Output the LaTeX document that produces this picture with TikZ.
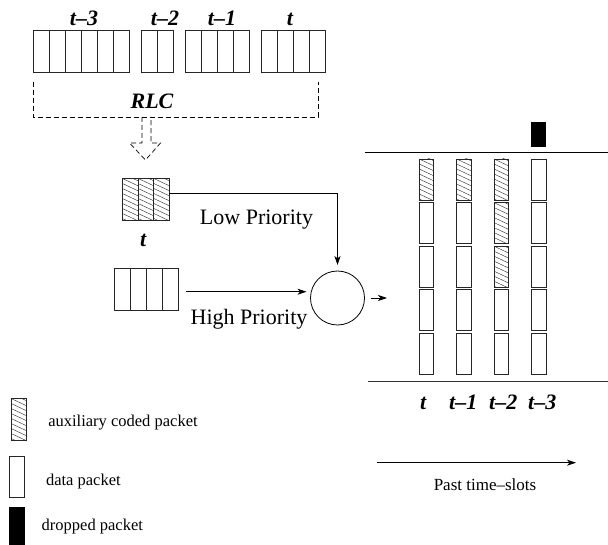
\documentclass[tikz,border=0pt]{standalone}
\usepackage{fontspec}
\setmainfont{Liberation Serif}
\usetikzlibrary{arrows.meta}
\usetikzlibrary{positioning}

\begin{document}
\begin{tikzpicture}[
        x=1pt,y=-1pt,
        every node/.style={inner sep=0pt,outer sep=0pt},
        packet/.style={rectangle,draw=black!85,line width=0.8pt,minimum width=16pt,minimum height=41.5pt},
        slot/.style={packet,minimum width=14.5pt,minimum height=41pt},
        codedpkt/.style={path picture={
            \foreach \k in {-2,...,10}
                \draw[line width=0.4pt] ([yshift={-\k*5pt}]path picture bounding box.north west) -- ++(17pt,-8pt);
        }},
        pkt/.code 2 args={\ifnum#1>#2\relax\else\pgfkeysalso{/tikz/codedpkt}\fi},
        dropped/.style={fill=black,draw=black},
        slot label/.style={font=\fontsize{22}{24}\selectfont\bfseries\itshape,anchor=base},
        prio label/.style={font=\fontsize{22}{24}\selectfont,anchor=base},
        legend label/.style={font=\fontsize{16.5}{18}\selectfont,anchor=base west},
        rlc line/.style={line width=0.7pt,dash pattern=on 5pt off 3pt}
    ]
    \tikzset{>={Stealth[length=9pt,width=6pt,inset=2.5pt]}}
    \useasboundingbox (0,0) rectangle (608,545);

    % packets waiting at the RLC
    \foreach \i in {1,...,6} \node[packet] (old3 \i) at ({25+16*\i},51.5) {};
    \foreach \i in {1,2} \node[packet] (old2 \i) at ({134+15.7*\i},51.5) {};
    \foreach \i in {1,...,4} \node[packet] (old1 \i) at ({177+16*\i},51.5) {};
    \foreach \i in {1,...,4} \node[packet] (now \i) at ({254+15.8*\i},51.5) {};
    \node[slot label] (lab old3) at (84,25.5) {t--3};
    \node[slot label] (lab old2) at (165,25.5) {t--2};
    \node[slot label] (lab old1) at (222,25.5) {t--1};
    \node[slot label] (lab now) at (290,25.5) {t};

    \coordinate (rlc left) at (33,82);
    \coordinate (rlc right) at (318,82);
    \coordinate (rlc out) at (146.5,117);
    \draw[rlc line] (rlc left) -- ++(0,35) -| (rlc right);
    \node[slot label] (lab rlc) at (152,108.3) {RLC};
    \draw[rlc line] (rlc out) ++(-4.5,0) -- ++(0,26) -- ++(-12.5,0) -- ++(16,17) -- ++(15,-17) -- ++(-9.5,0) -- ++(0,-26);

    % coded and data queues
    \foreach \i in {1,2,3} \node[packet,codedpkt,minimum width=15.7pt] (coded \i) at ({114.5+15.7*\i},199.2) {};
    \node[slot label] (lab coded) at (143.3,246.7) {t};
    \foreach \i in {1,...,4} \node[packet] (data \i) at ({106.3+16*\i},289.2) {};

    \node[circle,draw,line width=0.8pt,minimum size=54pt] (mux) at (337.5,298) {};
    \coordinate (stack in) at (387,298);

    \draw[->,line width=0.8pt] ([yshift=6pt]coded 3.east) -| ([yshift=6pt]mux.north);
    \draw[->,line width=0.8pt] ([xshift=8pt,yshift=-2.5pt]data 4.east) -- ([xshift=-4pt,yshift=-2.5pt]mux.west |- data 4.east);
    \draw[->,line width=0.8pt] ([xshift=6pt]mux.east) -- (stack in);
    \node[prio label] (lab low) at (256.5,224.3) {Low Priority};
    \node[prio label] (lab high) at (249,325) {High Priority};

    % transmitted slots
    \draw[line width=0.9pt] (365,152.3) -- (608,152.3);
    \draw[line width=0.9pt,black!80] (368,381.7) -- (608,381.7);
    \foreach \c/\x/\n in {1/426.5/1,2/463.9/1,3/501.3/3,4/538.7/0}
        \foreach \r in {1,...,5}
            \node[slot,pkt={\r}{\n}] (slot \c-\r) at (\x,{179.5+43.6*(\r-1)}) {};
    \node[slot,dropped,minimum height=24.5pt] (drop) at (538.2,134.5) {};
    \node[slot label] (lab s1) at (423.3,409.5) {t};
    \node[slot label] (lab s2) at (463.3,409.5) {t--1};
    \node[slot label] (lab s3) at (503.3,409.5) {t--2};
    \node[slot label] (lab s4) at (542.3,409.5) {t--3};

    \coordinate (past start) at (376.7,462.7);
    \coordinate (past end) at (576,462.7);
    \draw[->,line width=0.8pt] (past start) -- (past end);
    \node[font=\fontsize{17}{19}\selectfont,anchor=base] (lab past) at (485,490.7) {Past time--slots};

    % legend
    \node[packet,codedpkt,minimum width=15pt] (key coded) at (18.5,419.2) {};
    \node[packet,minimum width=15pt] (key data) at (16.8,476.7) {};
    \node[packet,dropped,minimum width=15pt] (key dropped) at (16.8,528.2) {};
    \node[legend label] (lab key coded) at (48.3,426.7) {auxiliary coded packet};
    \node[legend label] (lab key data) at (46,485) {data packet};
    \node[legend label] (lab key dropped) at (41.7,530.7) {dropped packet};
\end{tikzpicture}
\end{document}
